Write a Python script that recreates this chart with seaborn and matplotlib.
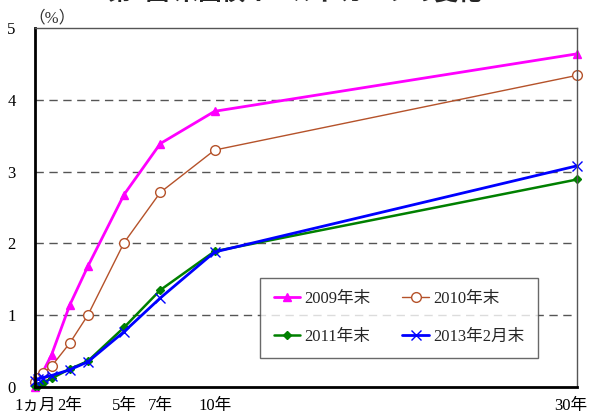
import numpy as np
import pandas as pd
import matplotlib
matplotlib.use("Agg")
import matplotlib.pyplot as plt
import matplotlib.transforms as mtransforms
import seaborn as sns

# ─── Data (yields in %, maturity in years) ────────────────────────────────────
maturity = [1/12, 0.25, 0.5, 1, 2, 3, 5, 7, 10, 30]
y2009 = [0.00, 0.06, 0.20, 0.45, 1.14, 1.68, 2.68, 3.39, 3.84, 4.64]
y2010 = [0.07, 0.12, 0.19, 0.29, 0.61, 1.00, 2.01, 2.71, 3.30, 4.34]
y2011 = [0.02, 0.02, 0.06, 0.12, 0.25, 0.36, 0.83, 1.35, 1.89, 2.89]
y2013 = [0.08, 0.11, 0.13, 0.16, 0.24, 0.35, 0.77, 1.24, 1.88, 3.08]
series_names = ["2009年末", "2010年末", "2011年末", "2013年2月末"]
tick_pos = [1/12, 2, 5, 7, 10, 30]
tick_labels = ["1ヵ月", "2年", "5年", "7年", "10年", "30年"]

df = pd.DataFrame({
    "maturity": maturity * 4,
    "yield": y2009 + y2010 + y2011 + y2013,
    "series": np.repeat(series_names, len(maturity)),
})

sns.set_theme(style="white")
plt.rcParams["font.family"] = ["Liberation Serif", "Noto Sans CJK JP"]

fig = plt.figure(figsize=(5.9, 4.19), dpi=100)
ax = fig.add_axes([0.0593, 0.0764, 0.9187, 0.8568])

styles = {
    "2009年末":    dict(color="#FF00FF", marker="^", lw=2.0, ms=6, mfc="#FF00FF", mec="#FF00FF"),
    "2010年末":    dict(color="#B5522A", marker="o", lw=1.0, ms=7, mfc="white", mec="#B5522A"),
    "2011年末":    dict(color="#008000", marker="D", lw=1.8, ms=4.5, mfc="#008000", mec="#008000"),
    "2013年2月末": dict(color="#0000FF", marker="x", lw=2.0, ms=7, mfc="#0000FF", mec="#0000FF"),
}
for name in series_names:
    st = styles[name]
    sns.lineplot(data=df[df["series"] == name], x="maturity", y="yield", ax=ax,
                 color=st["color"], marker=st["marker"], linewidth=st["lw"],
                 markersize=st["ms"], markerfacecolor=st["mfc"],
                 markeredgecolor=st["mec"], markeredgewidth=1.0,
                 label=name, clip_on=False)

ax.set_xlim(1/12, 30)
ax.set_ylim(0, 5)
ax.set_yticks([0, 1, 2, 3, 4, 5])
ax.set_yticklabels(["0", "1", "2", "3", "4", "5"])
ax.set_xticks(tick_pos)
ax.set_xticklabels(tick_labels)
ax.tick_params(axis="both", length=0, labelsize=12, colors="black")
ax.tick_params(axis="y", pad=14)
ax.tick_params(axis="x", pad=8)
ax.set_xlabel("")
ax.set_ylabel("")

# nudge the last x label left so it stays inside the picture
last = ax.get_xticklabels()[-1]
last.set_transform(last.get_transform() +
                   mtransforms.ScaledTranslation(-6 / 100, 0, fig.dpi_scale_trans))

for yv in [1, 2, 3, 4]:
    ax.axhline(yv, color="#555555", lw=1.0, ls=(0, (6, 4)), zorder=0)

for s in ["left", "bottom"]:
    ax.spines[s].set_color("black")
    ax.spines[s].set_linewidth(2.0)
for s in ["top", "right"]:
    ax.spines[s].set_color("#555555")
    ax.spines[s].set_linewidth(1.0)

ax.text(-0.012, 1.005, "（%）", transform=ax.transAxes, fontsize=12,
        ha="left", va="bottom", color="#333333")

# legend filled row by row: 2009, 2010 / 2011, 2013
handles, labels = ax.get_legend_handles_labels()
order = [0, 2, 1, 3]
leg = ax.legend([handles[i] for i in order], [labels[i] for i in order],
                loc="center", bbox_to_anchor=(0.6715, 0.1925),
                ncol=2, frameon=True, fancybox=False,
                edgecolor="#444444", fontsize=12, handlelength=1.6,
                borderaxespad=0, borderpad=0.8, handletextpad=0.25,
                columnspacing=1.9, labelspacing=1.3)
leg.get_frame().set_linewidth(1.0)

# title, cut off at the top of the picture as in the source
fig.text(0.50, 1.016, "第2図 米国債イールドカーブの変化", ha="center", va="center",
         fontsize=17, fontweight="bold", family=["Noto Sans CJK JP"])

fig.savefig("out.png", dpi=100)
